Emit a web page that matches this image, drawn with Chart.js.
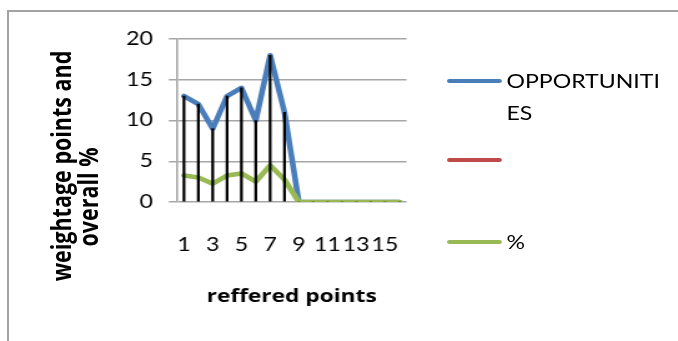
<!DOCTYPE html>
<html>
<head>
<meta charset="utf-8">
<script src="https://cdn.jsdelivr.net/npm/chart.js@4/dist/chart.umd.min.js"></script>
<style>
  html, body { margin: 0; padding: 0; background: #fff; width: 678px; height: 341px; overflow: hidden; }
  #frame { position: absolute; left: 7px; top: 10px; width: 720px; height: 400px;
           border-left: 2px solid #a3a3a3; border-top: 2px solid #a3a3a3; }
  /* the whole drawing is laid out narrow and widened horizontally */
  #stage { position: absolute; left: 0; top: 0; width: 543px; height: 341px;
           transform: scaleX(1.2486); transform-origin: 0 0; }
  #stage canvas { position: absolute; left: 0; top: 0; }
  .ytitle { position: absolute; font-family: "Open Sans", sans-serif; font-weight: 700; font-size: 21.5px;
            color: #000; white-space: nowrap; transform: translate(-50%, -50%) rotate(-90deg); }
  .swatch { position: absolute; left: 358.4px; width: 43.2px; height: 4.8px; border-radius: 2.4px; }
  .ltext { position: absolute; left: 405.6px; width: 128px; font: 18.5px Lato, "Open Sans", sans-serif;
           line-height: 32px; color: #000; word-break: break-all; }
</style>
</head>
<body>
<div id="frame"></div>
<div id="stage">
  <canvas id="chart" width="543" height="341"></canvas>
  <div class="ytitle" style="left:47.6px; top:166px;">weightage points and</div>
  <div class="ytitle" style="left:70px; top:197px;">overall %</div>
  <div id="legend"></div>
</div>
<script>
// referred points on the category axis
const categories = ['1','2','3','4','5','6','7','8','9','10','11','12','13','14','15','16'];
// weightage points per referred point
const opportunities = [13, 12, 9, 13, 14, 10, 18, 11, 0, 0, 0, 0, 0, 0, 0, 0];
// overall percentage per referred point
const overallPercent = [3.25, 3, 2.25, 3.25, 3.5, 2.5, 4.5, 2.75, 0, 0, 0, 0, 0, 0, 0, 0];
// third series has no name and no plotted values
const unnamedSeries = [];
// value axis ticks
const yTickValues = [0, 5, 10, 15, 20];

const seriesNames = ['OPPORTUNITIES', '', '%'];
const seriesColors = ['#4a7ebb', '#be4b48', '#98b954'];

const FONT = 'Lato, "Open Sans", sans-serif';
const TITLE_FONT = '"Open Sans", sans-serif';

const chart = new Chart(document.getElementById('chart'), {
  type: 'line',
  data: {
    labels: categories,
    datasets: [
      { // drop lines from each blue point down to the axis
        type: 'bar', label: 'drop', data: opportunities, backgroundColor: '#000',
        barThickness: 1.6, order: 0, inLegend: false
      },
      { label: seriesNames[0], data: opportunities, borderColor: seriesColors[0], borderWidth: 4.6,
        pointRadius: 0, borderJoinStyle: 'round', borderCapStyle: 'round', tension: 0, order: 3, fill: false },
      { label: seriesNames[1], data: unnamedSeries, borderColor: seriesColors[1], borderWidth: 4.6,
        pointRadius: 0, order: 2, fill: false },
      { label: seriesNames[2], data: overallPercent, borderColor: seriesColors[2], borderWidth: 4.6,
        pointRadius: 0, borderJoinStyle: 'round', borderCapStyle: 'round', tension: 0, order: 1, fill: false }
    ]
  },
  options: {
    responsive: false,
    animation: false,
    devicePixelRatio: 1,
    layout: { padding: { left: 0, right: 543 - 325.6, top: 39, bottom: 0 } },
    plugins: { legend: { display: false }, tooltip: { enabled: false } },
    scales: {
      x: {
        offset: true,
        grid: { display: false, drawTicks: false },
        border: { display: false },
        ticks: {
          autoSkip: false, maxRotation: 0, minRotation: 0, padding: 32, color: '#000',
          font: { family: FONT, size: 18.5 },
          callback: (v, i) => (i % 2 === 0 ? categories[i] : '')
        },
        title: {
          display: true, text: 'reffered points', color: '#000',
          font: { family: TITLE_FONT, size: 18.2, weight: 'bold' },
          padding: { top: 0, bottom: 33 }
        },
        afterFit: s => { s.height = 139; }
      },
      y: {
        min: yTickValues[0],
        max: yTickValues[yTickValues.length - 1],
        afterBuildTicks: s => { s.ticks = yTickValues.map(v => ({ value: v })); },
        ticks: { padding: 12.8, color: '#000', font: { family: FONT, size: 18.5 } },
        grid: { color: '#a6a6a6', lineWidth: 1.5, tickLength: 6.4, drawTicks: true },
        border: { display: true, color: '#a6a6a6', width: 1.6 },
        afterFit: s => { s.width = 141.6; }
      }
    }
  }
});

// legend built from the line series
const legendY = [81, 160, 242];
const legend = document.getElementById('legend');
chart.data.datasets.filter(d => d.inLegend !== false).forEach((d, i) => {
  const sw = document.createElement('div');
  sw.className = 'swatch';
  sw.style.top = (legendY[i] - 2.4) + 'px';
  sw.style.background = d.borderColor;
  legend.appendChild(sw);
  const tx = document.createElement('div');
  tx.className = 'ltext';
  tx.style.top = (legendY[i] - 16) + 'px';
  tx.textContent = d.label;
  legend.appendChild(tx);
});
</script>
</body>
</html>
